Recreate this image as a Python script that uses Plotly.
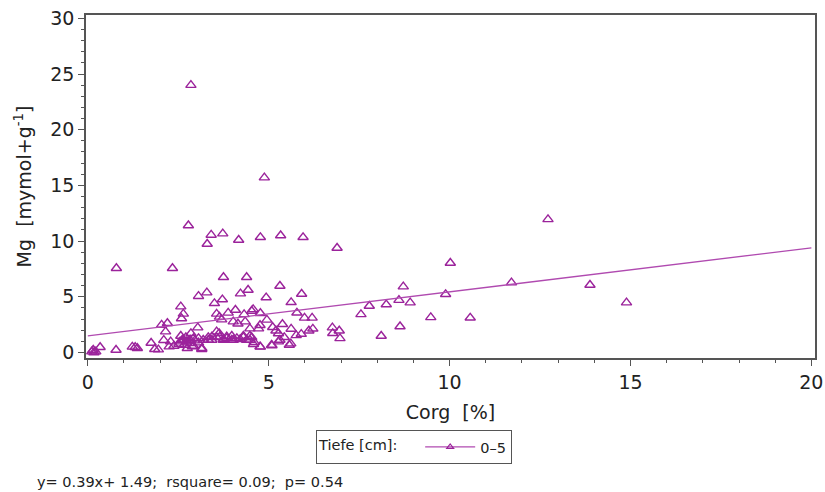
import plotly.graph_objects as go

# Data: Corg [%] vs Mg, depth 0-5 cm
corg = [2.85, 4.88, 2.78, 12.72, 3.41, 3.73, 3.30, 4.17, 4.77, 5.33, 5.95, 6.89, 10.02, 0.79, 2.34,
        11.71, 13.88, 14.89,
        8.72, 9.89, 7.78, 8.25, 8.60, 8.91, 7.55, 9.48, 10.57, 8.63, 8.11,
        5.31, 5.91, 4.93, 5.62, 5.78, 5.99, 6.20, 5.38,
        5.11, 5.20, 5.27, 5.43, 5.61, 5.62, 5.76, 5.90, 6.11, 6.22, 6.76, 6.95, 6.77, 6.97,
        4.60, 4.77, 5.09, 5.27, 4.48, 5.57,
        3.75, 4.39, 3.06, 3.29, 3.50, 3.72, 4.22, 4.43, 3.88, 4.08, 4.32, 4.53, 4.57, 4.77,
        3.64, 3.70, 3.56, 3.04, 4.02, 4.15, 4.35, 4.48, 4.72, 4.76, 4.95,
        2.92, 3.06, 3.19, 3.33, 3.43, 3.56, 3.63, 3.75, 3.84, 3.98, 4.02, 4.21, 4.30, 4.39,
        4.53, 4.58, 2.92, 3.15,
        2.55, 2.64, 2.73, 2.83, 2.96, 3.06, 3.15, 3.33, 3.43, 3.56, 3.65, 3.75, 3.84, 3.98,
        4.12, 4.30, 4.48, 4.76, 5.08, 5.31,
        0.11, 0.17, 0.22, 0.15, 0.34, 0.78, 1.23, 1.31, 1.37, 1.75, 1.85, 1.95, 2.04, 2.20,
        2.15, 2.10, 2.25, 2.38, 2.29, 2.52, 2.61, 2.66, 2.75, 2.85, 2.57, 2.71, 2.85, 2.75,
        2.89, 2.57, 2.64, 2.59]
mg = [24.0, 15.7, 11.4, 11.95, 10.55, 10.67, 9.74, 10.1, 10.34, 10.5, 10.34, 9.38, 8.03, 7.56, 7.56,
      6.27, 6.06, 4.47,
      5.91, 5.22, 4.17, 4.30, 4.70, 4.47, 3.42, 3.15, 3.11, 2.33, 1.48,
      5.97, 5.25, 4.93, 4.50, 3.56, 3.10, 3.10, 2.53,
      2.26, 1.95, 1.70, 1.36, 0.79, 2.11, 1.53, 1.65, 1.95, 2.12, 2.23, 1.95, 1.72, 1.26,
      0.92, 0.50, 0.62, 0.97, 1.12, 0.67,
      6.75, 6.75, 5.05, 5.37, 4.41, 4.75, 5.28, 5.61, 3.55, 3.81, 3.42, 3.72, 3.87, 3.52,
      3.19, 2.95, 3.46, 2.23, 2.77, 2.58, 2.77, 2.14, 2.14, 2.44, 2.92,
      1.27, 1.27, 1.12, 1.36, 1.12, 1.36, 1.72, 1.18, 1.27, 1.48, 1.12, 1.18, 1.36, 1.12,
      1.36, 0.74, 0.58, 0.29,
      0.97, 1.12, 0.97, 1.12, 1.06, 0.88, 0.38, 1.12, 1.42, 1.87, 1.42, 1.12, 1.42, 1.12,
      1.27, 1.48, 1.48, 0.52, 0.67, 1.12,
      0.07, 0.00, 0.07, 0.22, 0.47, 0.22, 0.50, 0.47, 0.38, 0.85, 0.29, 0.25, 2.47, 2.62,
      1.87, 1.10, 0.52, 0.58, 0.97, 0.76, 1.12, 0.67, 0.97, 0.83, 1.48, 1.36, 1.72, 0.38,
      0.52, 4.11, 3.46, 3.05]

# Regression
slope = 0.395
intercept = 1.49
fit_x = [0, 20]
fit_y = [intercept + slope * v for v in fit_x]

legend_title = "Tiefe [cm]:"
series_name = "0\u20135"
stats_text = "y= 0.39x+ 1.49;  rsquare= 0.09;  p= 0.54"

x_ticks = [0, 5, 10, 15, 20]
y_ticks = [0, 5, 10, 15, 20, 25, 30]

PURPLE = "#9B239B"
LINE_PURPLE = "#B04AB0"
FONT = "DejaVu Sans"

fig = go.Figure()
fig.add_trace(go.Scatter(
    x=corg, y=mg, mode="markers", showlegend=False,
    marker=dict(symbol="triangle-up-open", size=9, color=PURPLE, line=dict(width=1.4, color=PURPLE)),
))
fig.add_trace(go.Scatter(
    x=fit_x, y=fit_y, mode="lines", showlegend=False,
    line=dict(color=LINE_PURPLE, width=1.4),
))
# legend entry
fig.add_trace(go.Scatter(
    x=[None], y=[None], mode="lines+markers", name=series_name,
    line=dict(color=LINE_PURPLE, width=1.2),
    marker=dict(symbol="triangle-up-open", size=6, color=PURPLE, line=dict(width=1.2, color=PURPLE)),
))

axis_common = dict(
    showline=True, linecolor="#555555", linewidth=1.5, mirror=True,
    ticks="outside", ticklen=6, tickcolor="#555555", tickwidth=1.2,
    showgrid=False, zeroline=False, automargin=False,
    tickfont=dict(family=FONT, size=19, color="#222222"),
)

fig.update_xaxes(
    range=[-0.05, 20.1], tickvals=x_ticks, ticktext=[str(v) for v in x_ticks],
    minor=dict(dtick=1, tick0=0, ticks="outside", ticklen=3, tickcolor="#555555", showgrid=False),
    title=dict(text="Corg  [%]", font=dict(family=FONT, size=19, color="#222222"), standoff=14),
    **axis_common,
)
fig.update_yaxes(
    range=[-0.5, 30.3], tickvals=y_ticks, ticktext=[str(v) for v in y_ticks],
    minor=dict(dtick=1, tick0=0, ticks="outside", ticklen=3, tickcolor="#555555", showgrid=False),
    title=dict(text="Mg  [mymol+g<sup>-1</sup>]", font=dict(family=FONT, size=19, color="#222222"), standoff=14),
    **axis_common,
)

fig.add_annotation(
    text=stats_text, xref="paper", yref="paper", x=-0.07, y=-0.362,
    xanchor="left", yanchor="middle", showarrow=False,
    font=dict(family=FONT, size=14.5, color="#222222"),
)

fig.update_layout(
    width=825, height=492,
    margin=dict(l=86, r=10, t=15, b=134),
    paper_bgcolor="white", plot_bgcolor="white",
    legend=dict(
        orientation="h", x=0.45, xanchor="center", y=-0.21, yanchor="top",
        title=dict(text=legend_title + "   ", side="left",
                   font=dict(family=FONT, size=14.5, color="#222222")),
        font=dict(family=FONT, size=14.5, color="#222222"),
        bordercolor="#555555", borderwidth=1, bgcolor="white",
        itemwidth=50,
    ),
    showlegend=True,
)

fig.write_html("out.html")
